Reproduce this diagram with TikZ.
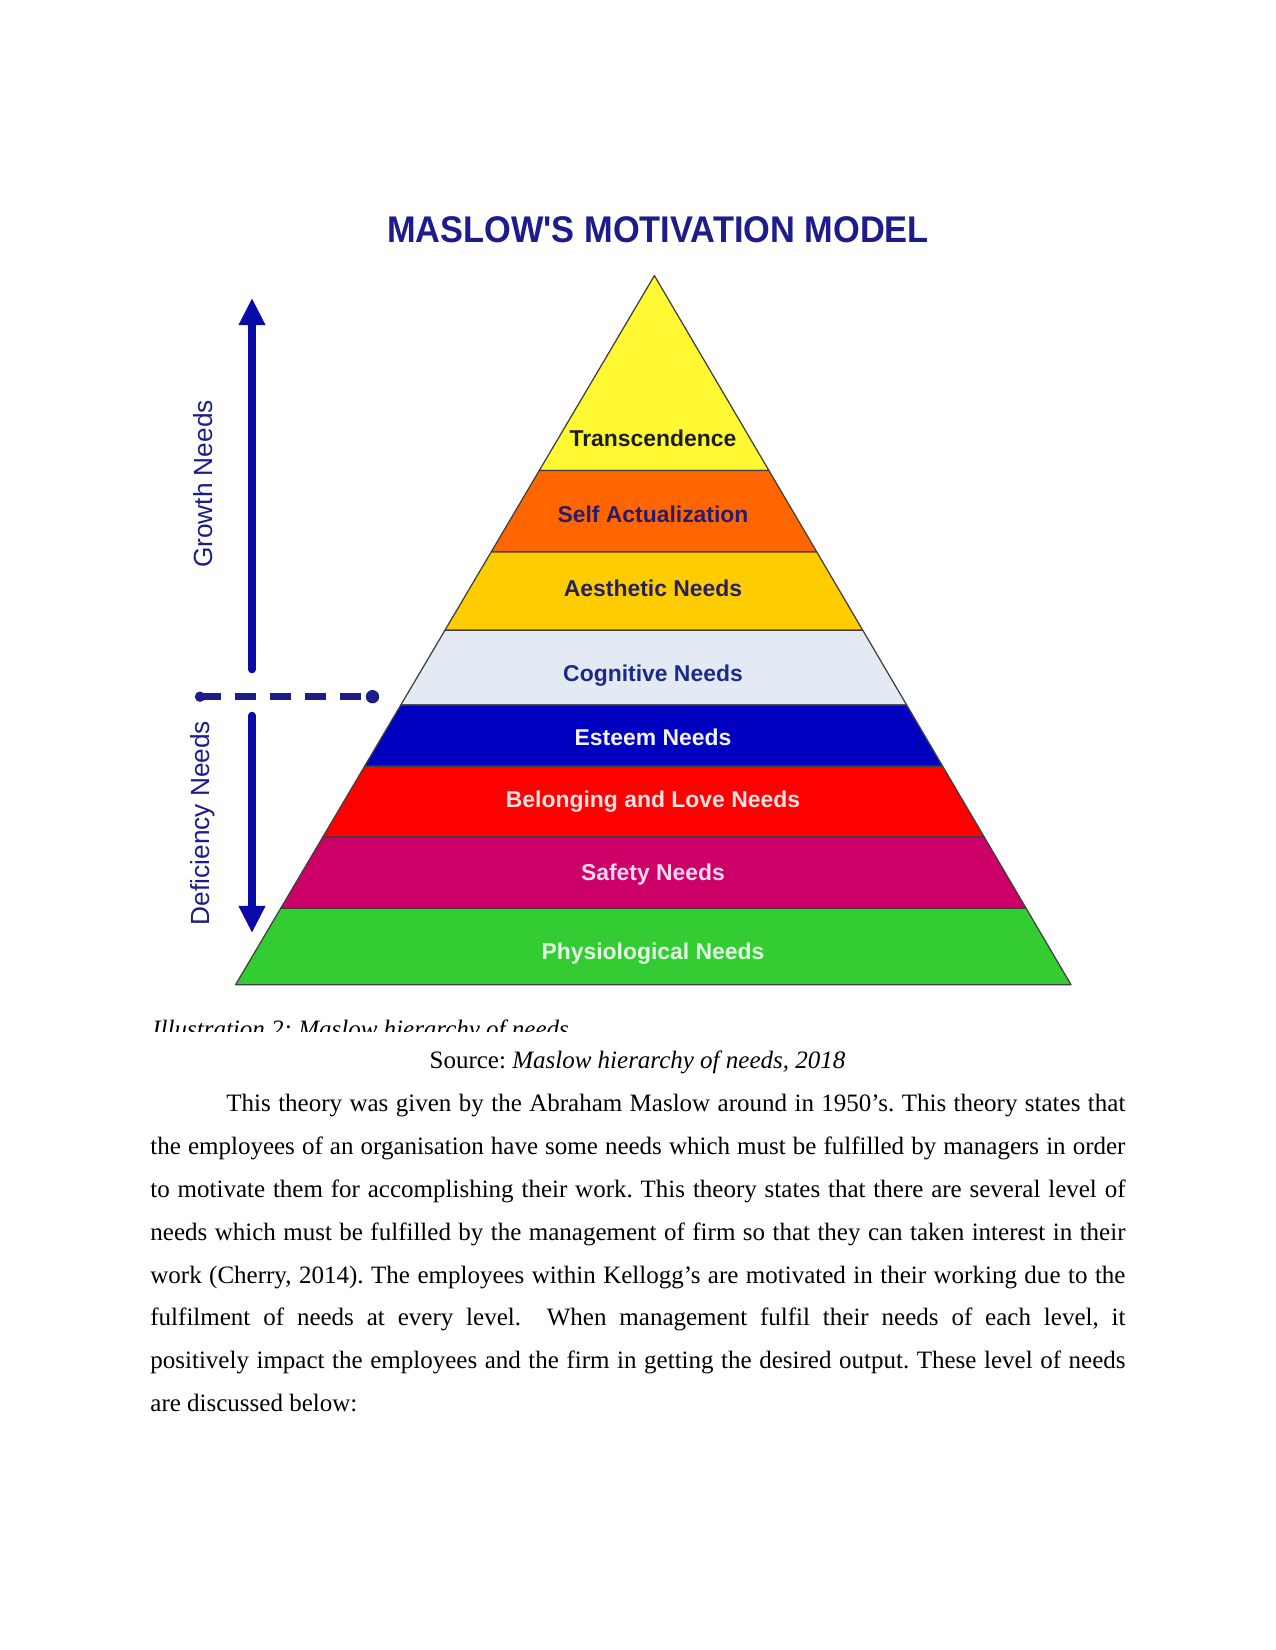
\documentclass[tikz,border=0pt]{standalone}
\usepackage{fontspec}
\setmainfont{Liberation Serif}
\newfontfamily\arialfont{Liberation Sans}
\usetikzlibrary{arrows.meta,calc}
\definecolor{maslownavy}{HTML}{1C1C8A}
\definecolor{arrowblue}{HTML}{0A0AA8}
\definecolor{ptrans}{HTML}{FFF833}
\definecolor{pself}{HTML}{FF6600}
\definecolor{paesth}{HTML}{FFCC00}
\definecolor{pcogn}{HTML}{E4EAF4}
\definecolor{pesteem}{HTML}{0000C0}
\definecolor{pbelong}{HTML}{FF0000}
\definecolor{psafety}{HTML}{CC0066}
\definecolor{pphysio}{HTML}{33CC33}
\definecolor{ttrans}{HTML}{1E1E1E}
\definecolor{tself}{HTML}{2B1B6B}
\definecolor{taesth}{HTML}{25205E}
\definecolor{tcogn}{HTML}{1C2A8C}
\definecolor{testeem}{HTML}{F2F2FF}
\definecolor{tbelong}{HTML}{FFE2E2}
\definecolor{tsafety}{HTML}{FFD8EE}
\definecolor{tphysio}{HTML}{E4FFE4}
\newcommand{\apos}{\char"27}
\frenchspacing

\begin{document}
\begin{tikzpicture}[x=0.48bp,y=-0.48bp,>=Stealth,
  layer/.style={draw=black!75,line width=0.6bp,line join=round},
  lvl/.style={font=\arialfont\bfseries\fontsize{11bp}{13bp}\selectfont,anchor=base,inner sep=0pt},
  side/.style={font=\arialfont\fontsize{12.6bp}{15bp}\selectfont,text=maslownavy,rotate=90,inner sep=0pt},
  bodyline/.style={font=\fontsize{12bp}{14bp}\selectfont,anchor=base west,inner sep=0pt},
  needarrow/.style={draw=arrowblue,line width=3.6bp,line cap=round,-{Triangle[width=12bp,length=13bp]}}]
\useasboundingbox[fill=white] (0,0) rectangle (1275,1650);

% title
\node[font=\arialfont\bfseries\fontsize{16.5bp}{20bp}\selectfont,text=maslownavy,anchor=base,inner sep=0pt] (title) at (658,242) {\scalebox{1}[1.08]{MASLOW\apos S MOTIVATION MODEL}};

% pyramid
\coordinate (apex) at (654.4,275.6);
\coordinate (bl) at (235.6,984.7);
\coordinate (br) at (1071,984.7);
\foreach \ta/\tb/\fc/\tc/\ty/\txt [count=\i] in {
  0/0.2749/ptrans/ttrans/446/Transcendence,
  0.2749/0.3898/pself/tself/522.7/Self Actualization,
  0.3898/0.5001/paesth/taesth/596.7/Aesthetic Needs,
  0.5001/0.6056/pcogn/tcogn/681.5/Cognitive Needs,
  0.6056/0.6920/pesteem/testeem/745/Esteem Needs,
  0.6920/0.7917/pbelong/tbelong/807.3/Belonging and Love Needs,
  0.7917/0.8920/psafety/tsafety/880/Safety Needs,
  0.8920/1/pphysio/tphysio/959.3/Physiological Needs}{
  \draw[layer,fill=\fc] ($(apex)!\ta!(bl)$) -- ($(apex)!\ta!(br)$) -- ($(apex)!\tb!(br)$) -- ($(apex)!\tb!(bl)$) -- cycle;
  \node[lvl,text=\tc] (lab\i) at (653,\ty) {\txt};
}

% growth / deficiency
\node[side] (growth) at (203,484) {Growth Needs};
\node[side] (defic) at (203,823) {Deficiency Needs};
\coordinate (gbot) at (252,669.5);
\coordinate (gtop) at (252,298);
\coordinate (dtop) at (252,715.5);
\coordinate (dbot) at (252,933);
\draw[needarrow] (gbot) -- (gtop);
\draw[needarrow] (dtop) -- (dbot);
\coordinate (dl) at (200,696.7);
\coordinate (dr) at (372.5,696.7);
\draw[maslownavy,line width=3.4bp,dash pattern=on 10.1bp off 6.7bp] (dl) -- (dr);
\fill[maslownavy] (dl) circle[radius=2.5bp];
\fill[maslownavy] (dr) circle[radius=3.2bp];

% caption, cut off at the image edge
\begin{scope}
\clip (0,0) rectangle (1275,1031.5);
\node[bodyline,font=\itshape\fontsize{12bp}{14bp}\selectfont] (capt) at (152,1037.5) {Illustration 2: Maslow hierarchy of needs};
\end{scope}
\node[bodyline,anchor=base] (src) at (637.5,1068) {Source: \textit{Maslow hierarchy of needs, 2018}};

% body text
\node[bodyline] (l1) at (226,1111) {\makebox[431.5bp][s]{This theory was given by the Abraham Maslow around in 1950\apos s. This theory states that}};
\node[bodyline] (l2) at (150,1154) {\makebox[468bp][s]{the employees of an organisation have some needs which must be fulfilled by managers in order}};
\node[bodyline] (l3) at (150,1197) {\makebox[468bp][s]{to motivate them for accomplishing their work. This theory states that there are several level of}};
\node[bodyline] (l4) at (150,1240) {\makebox[468bp][s]{needs which must be fulfilled by the management of firm so that they can taken interest in their}};
\node[bodyline] (l5) at (150,1283) {\makebox[468bp][s]{work (Cherry, 2014). The employees within Kellogg\apos s are motivated in their working due to the}};
\node[bodyline] (l6) at (150,1325.5) {\makebox[468bp][s]{fulfilment of needs at every level.\ \ When management fulfil their needs of each level, it}};
\node[bodyline] (l7) at (150,1368) {\makebox[468bp][s]{positively impact the employees and the firm in getting the desired output. These level of needs}};
\node[bodyline] (l8) at (150,1411) {are discussed below:};
\end{tikzpicture}
\end{document}
